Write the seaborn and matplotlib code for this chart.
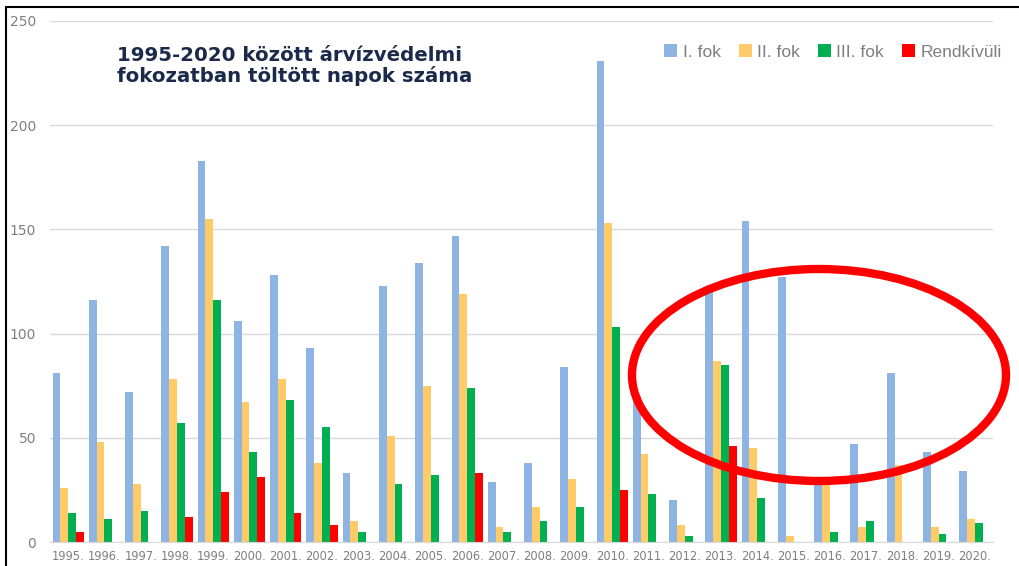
import pandas as pd
import numpy as np
import seaborn as sns
import matplotlib.pyplot as plt
from matplotlib.patches import Ellipse
from matplotlib.lines import Line2D

# Data (days per flood-defence level)
years = [f"{y}." for y in range(1995, 2021)]
fok_1 = [81, 116, 72, 142, 183, 106, 128, 93, 33, 123, 134, 147, 29, 38, 84, 231, 70, 20, 122, 154, 127, 31, 47, 81, 43, 34]
fok_2 = [26, 48, 28, 78, 155, 67, 78, 38, 10, 51, 75, 119, 7, 17, 30, 153, 42, 8, 87, 45, 3, 28, 7, 37, 7, 11]
fok_3 = [14, 11, 15, 57, 116, 43, 68, 55, 5, 28, 32, 74, 5, 10, 17, 103, 23, 3, 85, 21, 0, 5, 10, 0, 4, 9]
rendkivuli = [5, 0, 0, 12, 24, 31, 14, 8, 0, 0, 0, 33, 0, 0, 0, 25, 0, 0, 46, 0, 0, 0, 0, 0, 0, 0]

series_names = ['I. fok', 'II. fok', 'III. fok', 'Rendkívüli']
colors = ['#8EB4E3', '#FFCB69', '#00B050', '#FF0000']

df = pd.DataFrame({'year': years, 'I. fok': fok_1, 'II. fok': fok_2,
                   'III. fok': fok_3, 'Rendkívüli': rendkivuli})
df_long = pd.melt(df, id_vars='year', var_name='fok', value_name='napok')

sns.set_style('white')
plt.rcParams['font.family'] = ['DejaVu Sans']

fig = plt.figure(figsize=(10.19, 5.66), dpi=100)
ax = fig.add_axes([50 / 1019, 24 / 566, 943 / 1019, 521 / 566])

sns.barplot(data=df_long, x='year', y='napok', hue='fok', hue_order=series_names,
            palette=colors, width=0.86, errorbar=None, saturation=1, linewidth=0, ax=ax)

ax.set_ylim(0, 250)
ax.set_yticks([0, 50, 100, 150, 200, 250])
ax.yaxis.grid(True, color='#D9D9D9', linewidth=1)
ax.set_axisbelow(True)
ax.set_xlabel('')
ax.set_ylabel('')
ax.tick_params(axis='both', length=0, colors='#7F7F7F')
ax.tick_params(axis='y', labelsize=10, pad=10)
ax.tick_params(axis='x', labelsize=8.3, pad=6)
for side in ['top', 'right', 'left']:
    ax.spines[side].set_visible(False)
ax.spines['bottom'].set_color('#D9D9D9')
ax.set_xlim(-0.5, len(years) - 0.5)

# legend
handles, labels = ax.get_legend_handles_labels()
leg = ax.legend(handles, labels, loc='upper right', bbox_to_anchor=(1.026, 0.985), ncol=4,
                frameon=False, handlelength=0.75, handleheight=0.75,
                handletextpad=0.3, columnspacing=1.05, prop={'family': 'Liberation Sans', 'size': 12.5})
for t in leg.get_texts():
    t.set_color('#7F7F7F')

# title inside the plot
fig.text(117 / 1019, 1 - 66 / 566, '1995-2020 között árvízvédelmi\nfokozatban töltött napok száma',
         fontsize=14.2, fontweight='bold', color='#1B2A4A', va='center', ha='left', linespacing=1.1)

# red ellipse annotation
ell = Ellipse((819 / 1019, 1 - 375 / 566), 374 / 1019, 212 / 566, transform=fig.transFigure,
              fill=False, edgecolor='#FF0000', linewidth=6, zorder=10)
fig.patches.append(ell)

# black frame lines (top and left)
fig.add_artist(Line2D([6 / 1019, 1], [1 - 7 / 566, 1 - 7 / 566], transform=fig.transFigure, color='black', linewidth=1.5))
fig.add_artist(Line2D([6 / 1019, 6 / 1019], [0, 1 - 7 / 566], transform=fig.transFigure, color='black', linewidth=1.5))

plt.savefig('out.png', dpi=100)
